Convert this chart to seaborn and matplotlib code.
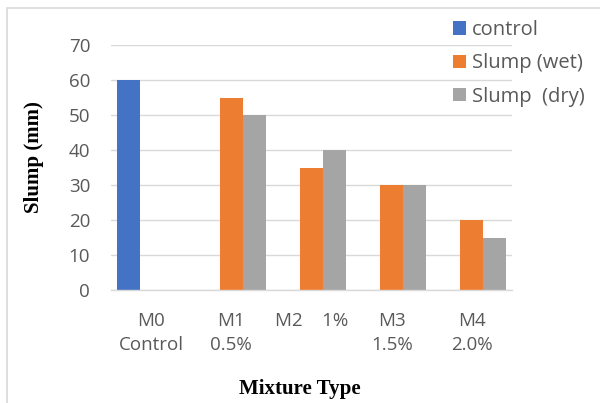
import numpy as np
import pandas as pd
import matplotlib
matplotlib.use("Agg")
import matplotlib.pyplot as plt
import seaborn as sns
from matplotlib.patches import Rectangle

# Mixture labels (x axis)
categories = ["M0\nControl", "M1\n0.5%", "M2    1%", "M3\n1.5%", "M4\n2.0%"]
series_names = ["control", "Slump (wet)", "Slump  (dry)"]

control = [60, None, None, None, None]
slump_wet = [None, 55, 35, 30, 20]
slump_dry = [None, 50, 40, 30, 15]

colors = ["#4472C4", "#ED7D31", "#A5A5A5"]

rows = []
for name, vals in zip(series_names, [control, slump_wet, slump_dry]):
    for cat, v in zip(categories, vals):
        if v is not None:
            rows.append({"Mixture": cat, "Series": name, "Slump": v})
df = pd.DataFrame(rows)

sns.set_theme(style="white")
plt.rcParams["font.family"] = ["Open Sans", "DejaVu Sans"]

fig = plt.figure(figsize=(6.0, 4.03), dpi=100)
ax = fig.add_axes([111 / 600, 113 / 403, 401 / 600, 245 / 403])

sns.barplot(data=df, x="Mixture", y="Slump", hue="Series",
            order=categories, hue_order=series_names,
            palette=colors, width=0.8625, saturation=1.0,
            errorbar=None, ax=ax, linewidth=0)

ax.set_ylim(0, 70)
ax.set_xlim(-0.5, len(categories) - 0.5)
ax.set_yticks(np.arange(0, 71, 10))
ax.yaxis.grid(True, color="#d9d9d9", linewidth=1)
ax.set_axisbelow(True)
for side in ["left", "right", "top"]:
    ax.spines[side].set_visible(False)
ax.spines["bottom"].set_color("#d9d9d9")
ax.spines["bottom"].set_linewidth(1)

ax.tick_params(axis="y", length=0, pad=15, labelsize=13.5, labelcolor="#595959")
ax.tick_params(axis="x", length=0, pad=16, labelsize=13.5, labelcolor="#595959")
for t in ax.get_xticklabels():
    t.set_linespacing(1.4)

ax.set_xlabel("")
ax.set_ylabel("")
fig.text(300 / 600, 1 - 389 / 403, "Mixture Type", ha="center", va="center",
         family="Liberation Serif", fontweight="bold", fontsize=15, color="black")
fig.text(34 / 600, 1 - 157 / 403, "Slump (mm)", ha="center", va="center",
         rotation=90, family="Liberation Serif", fontweight="bold",
         fontsize=15, color="black")

leg = ax.legend(loc="upper left", bbox_to_anchor=(443 / 600, 1 - 10 / 403),
                bbox_transform=fig.transFigure, frameon=False,
                fontsize=14.5, handlelength=0.65, handleheight=0.65,
                handletextpad=0.3, labelspacing=0.66, borderpad=0)
for txt in leg.get_texts():
    txt.set_color("#595959")

# chart area border
fig.patches.append(Rectangle((7 / 600, -0.1), 1.2, 1 - 8 / 403 + 0.1,
                             transform=fig.transFigure, fill=False,
                             edgecolor="#d9d9d9", linewidth=1.2))

fig.savefig("out.png", dpi=100)
